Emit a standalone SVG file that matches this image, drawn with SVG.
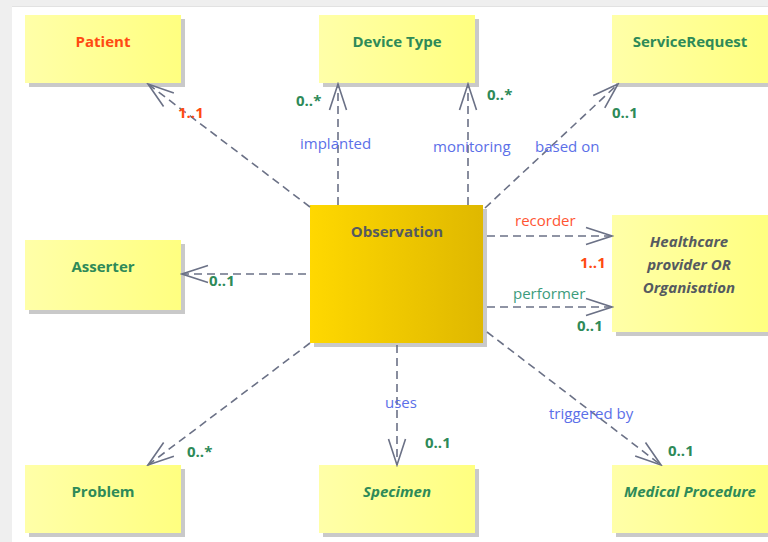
<svg xmlns="http://www.w3.org/2000/svg" width="768" height="542" viewBox="0 0 768 542">
<defs>
<linearGradient id="yel" x1="0" y1="0" x2="1" y2="0">
<stop offset="0" stop-color="#ffffa8"/>
<stop offset="1" stop-color="#ffff80"/>
</linearGradient>
<linearGradient id="gold" x1="0" y1="0" x2="1" y2="0">
<stop offset="0" stop-color="#ffd800"/>
<stop offset="1" stop-color="#dfb800"/>
</linearGradient>
<marker id="arr" viewBox="0 0 30 20" refX="28" refY="10" markerWidth="30" markerHeight="20" markerUnits="userSpaceOnUse" orient="auto">
<path d="M2,1.5 L28,10 L2,18.5" fill="none" stroke="#6b7186" stroke-width="1.6"/>
</marker>
</defs>
<style>
.shadow{fill:#c9c9c9}
.box{fill:url(#yel)}
.obs{fill:url(#gold)}
.t{font-family:"Open Sans","Liberation Sans",sans-serif;font-size:15px;font-weight:bold;text-anchor:middle}
.g{fill:#2e8a58}
.o{fill:#ff4a12}
.d{fill:#555a60}
.i{font-style:italic}
.c{fill:none;stroke:#6b7186;stroke-width:1.6;stroke-dasharray:8,5;marker-end:url(#arr)}
.lb{font-family:"Open Sans","Liberation Sans",sans-serif;font-size:15px;fill:#5b6fe8}
.m{font-family:"Open Sans","Liberation Sans",sans-serif;font-size:15px;font-weight:bold}
</style>
<rect x="0" y="0" width="768" height="542" fill="#efefef"/>
<rect x="12" y="7" width="756" height="535" fill="#ffffff"/>
<line x1="12" y1="6.5" x2="768" y2="6.5" stroke="#e2e2e2" stroke-width="1"/>

<g id="patient">
<rect class="shadow" x="29" y="19" width="156" height="68"/>
<rect class="box" x="25" y="15" width="156" height="68"/>
<text class="t o" x="103" y="47">Patient</text>
</g>
<g id="devicetype">
<rect class="shadow" x="323" y="19" width="156" height="68"/>
<rect class="box" x="319" y="15" width="156" height="68"/>
<text class="t g" x="397" y="47">Device Type</text>
</g>
<g id="servicerequest">
<rect class="shadow" x="616" y="19" width="156" height="68"/>
<rect class="box" x="612" y="15" width="156" height="68"/>
<text class="t g" x="690" y="47">ServiceRequest</text>
</g>
<g id="asserter">
<rect class="shadow" x="29" y="244" width="156" height="70"/>
<rect class="box" x="25" y="240" width="156" height="70"/>
<text class="t g" x="103" y="272">Asserter</text>
</g>
<g id="observation">
<rect class="shadow" x="314" y="209" width="173" height="138"/>
<rect class="obs" x="310" y="205" width="173" height="138"/>
<text class="t d" x="397" y="237">Observation</text>
</g>
<g id="healthcare">
<rect class="shadow" x="616" y="219" width="156" height="117"/>
<rect class="box" x="612" y="215" width="156" height="117"/>
<text class="t d i" x="689" y="247">Healthcare</text>
<text class="t d i" x="689" y="270">provider OR</text>
<text class="t d i" x="689" y="293">Organisation</text>
</g>
<g id="problem">
<rect class="shadow" x="29" y="469" width="156" height="68"/>
<rect class="box" x="25" y="465" width="156" height="68"/>
<text class="t g" x="103" y="497">Problem</text>
</g>
<g id="specimen">
<rect class="shadow" x="323" y="469" width="156" height="68"/>
<rect class="box" x="319" y="465" width="156" height="68"/>
<text class="t g i" x="397" y="497">Specimen</text>
</g>
<g id="medicalprocedure">
<rect class="shadow" x="616" y="469" width="156" height="68"/>
<rect class="box" x="612" y="465" width="156" height="68"/>
<text class="t g i" x="690" y="497">Medical Procedure</text>
</g>

<g id="connectors">
<line class="c" x1="310" y1="207" x2="148" y2="84"/>
<line class="c" x1="338" y1="205" x2="338" y2="84"/>
<line class="c" x1="468" y1="205" x2="468" y2="84"/>
<line class="c" x1="485" y1="208" x2="618" y2="84"/>
<line class="c" x1="306" y1="274" x2="182" y2="274"/>
<line class="c" x1="487" y1="236" x2="612" y2="236"/>
<line class="c" x1="487" y1="307" x2="612" y2="307"/>
<line class="c" x1="310" y1="343" x2="148" y2="465"/>
<line class="c" x1="397" y1="345" x2="397" y2="465"/>
<line class="c" x1="487" y1="332" x2="661" y2="465"/>

<text class="m o" x="178" y="118">1..1</text>
<text class="m g" x="296" y="106">0..*</text>
<text class="lb" x="300" y="149">implanted</text>
<text class="m g" x="487" y="100">0..*</text>
<text class="lb" x="433" y="152">monitoring</text>
<text class="m g" x="612" y="118">0..1</text>
<text class="lb" x="535" y="152">based on</text>
<text class="m g" x="209" y="286">0..1</text>
<text class="lb" x="515" y="226" style="fill:#ff5533">recorder</text>
<text class="m o" x="580" y="268">1..1</text>
<text class="lb" x="513" y="299" style="fill:#3c9c7c">performer</text>
<text class="m g" x="577" y="331">0..1</text>
<text class="m g" x="187" y="457">0..*</text>
<text class="lb" x="385" y="408">uses</text>
<text class="m g" x="425" y="448">0..1</text>
<text class="lb" x="549" y="419">triggered by</text>
<text class="m g" x="668" y="456">0..1</text>
</g>
</svg>
